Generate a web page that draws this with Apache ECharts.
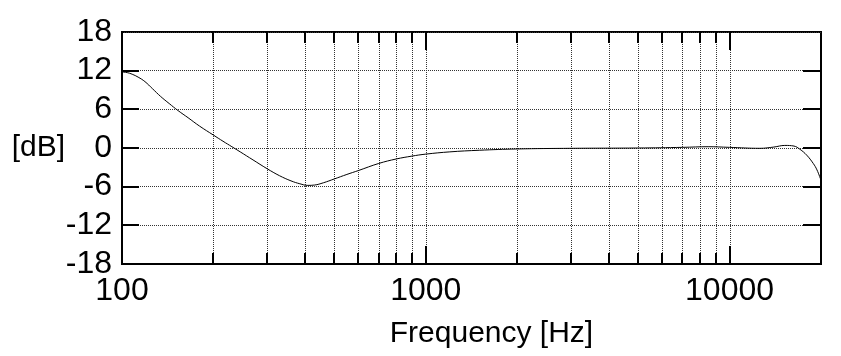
<!DOCTYPE html>
<html>
<head>
    <meta charset="utf-8">
    <title>Frequency response</title>
    <script src="https://cdn.jsdelivr.net/npm/echarts@6/dist/echarts.min.js"></script>
    <style>
        html, body { margin: 0; padding: 0; background: #fff; }
        #chart { width: 841px; height: 356px; }
    </style>
</head>
<body>
<div id="chart"></div>
<script>
    // measured response
    var freqHz = [100, 104, 108, 113, 119, 126, 134, 143, 153, 165, 180, 200, 215, 230, 245, 270, 300, 330, 360, 385, 409, 430, 460, 500, 550, 600, 700, 800, 900, 1000, 1200, 1500, 2000, 3000, 5000, 7000, 8500, 10000, 12600, 14000, 15200, 16300, 17050, 17940, 18860, 19400, 20000];
    var levelDb = [11.8, 11.7, 11.45, 11.0, 10.3, 9.2, 8.0, 6.9, 5.8, 4.7, 3.4, 2.0, 1.05, 0.2, -0.6, -1.85, -3.2, -4.3, -5.1, -5.55, -5.8, -5.75, -5.4, -4.8, -4.1, -3.5, -2.4, -1.7, -1.26, -0.95, -0.6, -0.35, -0.15, -0.05, 0.0, 0.1, 0.2, 0.1, -0.05, 0.15, 0.4, 0.3, -0.2, -1.1, -2.4, -3.4, -5.0];

    // axes
    var yTicks = [-18, -12, -6, 0, 6, 12, 18];
    var xLabels = [100, 1000, 10000];
    var xGridFreqs = [200, 300, 400, 500, 600, 700, 800, 900, 1000, 2000, 3000, 4000, 5000, 6000, 7000, 8000, 9000, 10000];
    var xMajorFreqs = [1000, 10000];

    var font = 'Liberation Sans';
    var chart = echarts.init(document.getElementById('chart'), null, {renderer: 'canvas'});

    var curve = freqHz.map(function (f, i) { return [f, levelDb[i]]; });
    var gridData = xGridFreqs.map(function (f) { return [f, xMajorFreqs.indexOf(f) >= 0 ? 1 : 0]; });
    var yTickData = yTicks.slice(1, -1).map(function (v) { return [100, v]; });

    // vertical grid lines + top/bottom ticks
    function renderXGrid(params, api) {
        var f = api.value(0);
        var top = api.coord([f, yTicks[yTicks.length - 1]]);
        var bottom = api.coord([f, yTicks[0]]);
        var len = api.value(1) === 1 ? 18 : 11;
        var x = Math.round(top[0]);
        return {
            type: 'group',
            children: [
                {type: 'line', shape: {x1: x + 0.5, y1: top[1], x2: x + 0.5, y2: bottom[1]},
                    style: {stroke: '#333', lineWidth: 1, lineDash: [1, 1]}},
                {type: 'line', shape: {x1: x, y1: bottom[1], x2: x, y2: bottom[1] - len},
                    style: {stroke: '#000', lineWidth: 2}},
                {type: 'line', shape: {x1: x, y1: top[1], x2: x, y2: top[1] + len},
                    style: {stroke: '#000', lineWidth: 2}}
            ]
        };
    }

    // left/right ticks
    function renderYTicks(params, api) {
        var left = api.coord([100, api.value(1)]);
        var right = api.coord([20000, api.value(1)]);
        var y = Math.round(left[1]);
        return {
            type: 'group',
            children: [
                {type: 'line', shape: {x1: left[0], y1: y, x2: left[0] + 17, y2: y},
                    style: {stroke: '#000', lineWidth: 2}},
                {type: 'line', shape: {x1: right[0], y1: y, x2: right[0] - 18, y2: y},
                    style: {stroke: '#000', lineWidth: 2}}
            ]
        };
    }

    var option = {
        animation: false,
        backgroundColor: '#fff',
        grid: {
            left: 122, right: 20, top: 32, bottom: 92,
            show: true, borderColor: '#000', borderWidth: 2
        },
        xAxis: {
            type: 'log',
            logBase: 10,
            min: 100,
            max: 20000,
            name: 'Frequency [Hz]',
            nameLocation: 'middle',
            nameGap: 55,
            nameTextStyle: {fontSize: 30, fontFamily: font, color: '#000', padding: [0, 0, 0, 40]},
            axisLine: {onZero: false, lineStyle: {color: '#000', width: 2}},
            axisTick: {show: false},
            splitLine: {show: false},
            axisLabel: {
                fontSize: 32, fontFamily: font, color: '#000', margin: 11,
                showMaxLabel: false,
                formatter: function (v) {
                    var r = Math.round(v);
                    return xLabels.indexOf(r) >= 0 ? String(r) : '';
                }
            }
        },
        yAxis: {
            type: 'value',
            min: -18, max: 18, interval: 6,
            name: '[dB]',
            nameLocation: 'middle',
            nameRotate: 0,
            nameGap: 57,
            nameMoveOverlap: false,
            nameTextStyle: {fontSize: 30, fontFamily: font, color: '#000'},
            axisLine: {show: true, lineStyle: {color: '#000', width: 2}},
            axisTick: {show: false},
            splitLine: {show: true, lineStyle: {color: '#333', width: 1, type: [1, 1]}},
            axisLabel: {fontSize: 32, fontFamily: font, color: '#000', margin: 10}
        },
        series: [{
            type: 'custom',
            name: 'xgrid',
            silent: true,
            clip: false,
            z: 1,
            renderItem: renderXGrid,
            data: gridData
        }, {
            type: 'custom',
            name: 'yticks',
            silent: true,
            clip: false,
            z: 2,
            renderItem: renderYTicks,
            data: yTickData
        }, {
            type: 'line',
            name: 'response',
            data: curve,
            smooth: 0.4,
            showSymbol: false,
            z: 5,
            lineStyle: {color: '#000', width: 1}
        }]
    };

    chart.setOption(option);
</script>
</body>
</html>
